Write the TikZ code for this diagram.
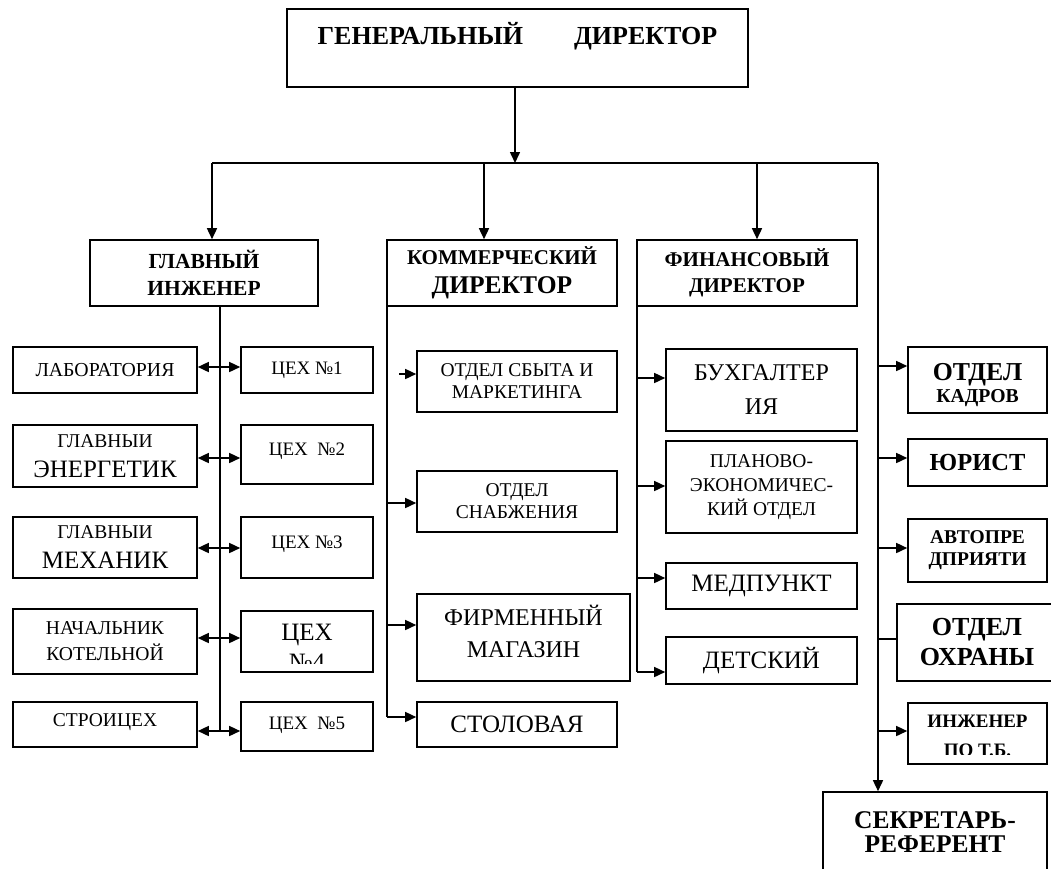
\documentclass[tikz,border=0pt]{standalone}
\usepackage{fontspec}
\setmainfont{Liberation Serif}
\usetikzlibrary{arrows.meta}
\newcommand{\fsz}[2]{\fontsize{#1pt}{#2pt}\selectfont}

\begin{document}
\begin{tikzpicture}[x=1pt, y=-1pt,
  box/.style={draw, line width=1.6pt, inner sep=0pt, align=center},
  lift/.style={text height=13pt, text depth=#1},
  ln/.style={line width=1.5pt},
  arr/.style={line width=1.5pt, -{Triangle[length=11pt,width=10pt]}},
  dbl/.style={line width=1.5pt, {Triangle[length=11pt,width=10pt]}-{Triangle[length=11pt,width=10pt]}}]

\fill[white] (0,0) rectangle (1051,868);
\useasboundingbox (0,0) rectangle (1051,868);

\node[box, minimum width=461pt, minimum height=78pt, font=\bfseries\fsz{26}{30}, text height=19pt, text depth=26pt] (gd) at (517.5,48) {ГЕНЕРАЛЬНЫЙ\hspace{51pt}ДИРЕКТОР};

\node[box, minimum width=228pt, minimum height=66pt, font=\bfseries\fsz{21.5}{27}] (gi) at (204,273) {ГЛАВНЫЙ\\ИНЖЕНЕР};
\node[box, minimum width=230pt, minimum height=66pt, font=\bfseries\fsz{21}{29}] (kd) at (502,273) {КОММЕРЧЕСКИЙ\\{\fsz{25.5}{29}ДИРЕКТОР}};
\node[box, minimum width=220pt, minimum height=66pt, font=\bfseries\fsz{21}{26}] (fd) at (747,273) {ФИНАНСОВЫЙ\\ДИРЕКТОР};

\node[box, minimum width=184pt, minimum height=46pt, font=\fsz{19.8}{22}] (lab) at (105,370) {ЛАБОРАТОРИЯ};
\node[box, minimum width=184pt, minimum height=62pt, font=\fsz{19.5}{30}] (en) at (105,456) {ГЛАВНЫИ\\{\fsz{25}{30}ЭНЕРГЕТИК}};
\node[box, minimum width=184pt, minimum height=61pt, font=\fsz{19.5}{30}] (mex) at (105,547.5) {ГЛАВНЫИ\\{\fsz{25}{30}МЕХАНИК}};
\node[box, minimum width=184pt, minimum height=65pt, font=\fsz{19.6}{26}] (kot) at (105,641.5) {НАЧАЛЬНИК\\КОТЕЛЬНОЙ};
\node[box, minimum width=184pt, minimum height=45pt, font=\fsz{19.5}{22}, lift=10pt] (str) at (105,724.5) {СТРОИЦЕХ};

\node[box, minimum width=132pt, minimum height=46pt, font=\fsz{19}{22}] (c1) at (307,370) {ЦЕХ №1};
\node[box, minimum width=132pt, minimum height=59pt, font=\fsz{19}{22}, lift=12pt] (c2) at (307,454.5) {ЦЕХ~~№2};
\node[box, minimum width=132pt, minimum height=61pt, font=\fsz{19}{22}, lift=12pt] (c3) at (307,547.5) {ЦЕХ №3};
\node[box, minimum width=132pt, minimum height=61pt] (c4) at (307,641.5) {};
\begin{scope}
\clip (c4.north west) rectangle ([yshift=9pt]c4.south east);
\node[font=\fsz{25}{30}, align=center, inner sep=0pt] (c4t) at ([yshift=-5.5pt]c4.center) {ЦЕХ\\№4};
\end{scope}
\node[box, minimum width=132pt, minimum height=49pt, font=\fsz{19}{22}, lift=8pt] (c5) at (307,726.5) {ЦЕХ~~№5};

\node[box, minimum width=200pt, minimum height=61pt, font=\fsz{19.5}{22}] (osm) at (517,381.5) {ОТДЕЛ СБЫТА И\\МАРКЕТИНГА};
\node[box, minimum width=200pt, minimum height=61pt, font=\fsz{19.5}{22}] (osn) at (517,501.5) {ОТДЕЛ\\СНАБЖЕНИЯ};
\node[box, minimum width=213pt, minimum height=87pt, font=\fsz{24}{32}] (fm) at (523.5,637.5) {ФИРМЕННЫЙ\\МАГАЗИН\rule[-12pt]{0pt}{1pt}};
\node[box, minimum width=200pt, minimum height=45pt, font=\fsz{25}{30}] (stol) at (517,724.5) {СТОЛОВАЯ};

\node[box, minimum width=191pt, minimum height=82pt, font=\fsz{24}{34}] (buh) at (761.5,390) {БУХГАЛТЕР\\ИЯ};
\node[box, minimum width=191pt, minimum height=92pt, font=\fsz{19.5}{24}] (plan) at (761.5,487) {ПЛАНОВО-\\ЭКОНОМИЧЕС-\\КИЙ ОТДЕЛ};
\node[box, minimum width=191pt, minimum height=46pt, font=\fsz{25}{30}] (med) at (761.5,586) {МЕДПУНКТ};
\node[box, minimum width=191pt, minimum height=47pt, font=\fsz{25}{30}] (det) at (761.5,660.5) {ДЕТСКИЙ};

\node[box, minimum width=139pt, minimum height=66pt, font=\bfseries\fsz{19.7}{22}] (ok) at (977.5,380) {\rule{0pt}{28pt}{\fsz{25.8}{22}ОТДЕЛ}\\КАДРОВ};
\node[box, minimum width=139pt, minimum height=47pt, font=\bfseries\fsz{24.5}{28}] (yur) at (977.5,462.5) {ЮРИСТ};
\node[box, minimum width=139pt, minimum height=63pt, font=\bfseries\fsz{19.5}{22}] (avt) at (977.5,550.5) {АВТОПРЕ\\ДПРИЯТИ};
\node[box, minimum width=160pt, minimum height=77pt, font=\bfseries\fsz{26}{30}] (ohr) at (977,642.5) {ОТДЕЛ\\ОХРАНЫ};
\node[box, minimum width=139pt, minimum height=61pt] (inz) at (977.5,733.5) {};
\begin{scope}
\clip (inz.north west) rectangle ([yshift=10pt]inz.south east);
\node[font=\bfseries\fsz{19}{29}, align=center, inner sep=0pt] (inzt) at ([yshift=-2pt]inz.center) {ИНЖЕНЕР\\ПО Т.Б.};
\end{scope}
\node[box, minimum width=224pt, minimum height=80pt, font=\bfseries\fsz{25.5}{24}] (sr) at (935,832) {СЕКРЕТАРЬ-\\РЕФЕРЕНТ};

\coordinate (bus) at (515,163);
\coordinate (busL) at (212,163);
\coordinate (busK) at (484,163);
\coordinate (busF) at (757,163);
\coordinate (busR) at (878,163);
\draw[ln] (busL) -- (busR);
\draw[arr] (gd.south -| bus) -- (bus);
\foreach \b/\n in {busL/gi, busK/kd, busF/fd}{
\draw[arr] (\b) -- (\b |- \n.north);
}
\draw[arr] (busR) -- (busR |- sr.north);

\foreach \lft/\rgt/\y [count=\i] in {lab/c1/367, en/c2/458, mex/c3/548, kot/c4/638, str/c5/731}{
\coordinate (g\i) at (220,\y);
\draw[dbl] (g\i -| \lft.east) -- (g\i -| \rgt.west);
}
\draw[ln] (gi.south -| g1) -- (g5);

\coordinate (k-osm) at (399,374);
\draw[arr] (k-osm) -- (k-osm -| osm.west);
\foreach \n/\y in {osn/503, fm/625, stol/717}{
\coordinate (k-\n) at (387,\y);
\draw[arr] (k-\n) -- (k-\n -| \n.west);
}
\draw[ln] (k-stol |- kd.south) -- (k-stol);

\foreach \n/\y in {buh/378, plan/486, med/578, det/672}{
\coordinate (f-\n) at (637,\y);
\draw[arr] (f-\n) -- (f-\n -| \n.west);
}
\draw[ln] (f-det |- fd.south) -- (f-det);

\foreach \n/\y in {ok/366, yur/458, avt/548, inz/731}{
\coordinate (r-\n) at (878,\y);
\draw[arr] (r-\n) -- (r-\n -| \n.west);
}
\coordinate (r-ohr) at (878,639);
\draw[ln] (r-ohr) -- (r-ohr -| ohr.west);
\end{tikzpicture}
\end{document}
